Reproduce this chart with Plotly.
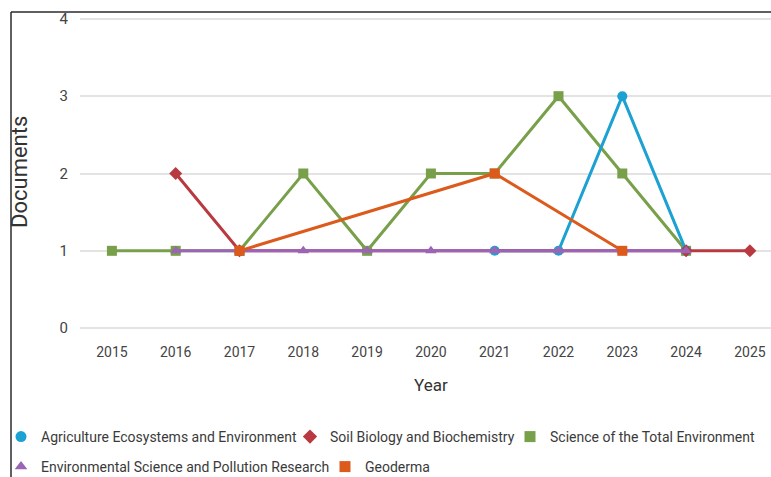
import plotly.graph_objects as go

# Publication counts per journal and year
years_agri = [2021, 2022, 2023, 2024]
docs_agri = [1, 1, 3, 1]

years_soil = [2016, 2017, 2024, 2025]
docs_soil = [2, 1, 1, 1]

years_stoten = [2015, 2016, 2017, 2018, 2019, 2020, 2021, 2022, 2023, 2024]
docs_stoten = [1, 1, 1, 2, 1, 2, 2, 3, 2, 1]

years_espr = [2016, 2017, 2018, 2019, 2020, 2021, 2022, 2023, 2024]
docs_espr = [1, 1, 1, 1, 1, 1, 1, 1, 1]

years_geoderma = [2017, 2021, 2023]
docs_geoderma = [1, 2, 1]

year_ticks = list(range(2015, 2026))
doc_ticks = [0, 1, 2, 3, 4]

W, H = 771, 477
ML, MR, MT, MB = 80, 0, 15, 145

FONT = "Roboto, 'Open Sans', sans-serif"

# (name, x, y, colour, marker symbol, legend id) - listed in drawing order
series = [
    ("Science of the Total Environment", years_stoten, docs_stoten, "#78a04b", "square", "legend3"),
    ("Agriculture Ecosystems and Environment", years_agri, docs_agri, "#1ba1d2", "circle", "legend"),
    ("Soil Biology and Biochemistry", years_soil, docs_soil, "#b83a40", "diamond", "legend2"),
    ("Environmental Science and Pollution Research", years_espr, docs_espr, "#9b64b5", "triangle-up", "legend4"),
    ("Geoderma", years_geoderma, docs_geoderma, "#dc5a1b", "square", "legend5"),
]

fig = go.Figure()
for name, xs, ys, col, sym, leg in series:
    fig.add_trace(go.Scatter(
        x=xs, y=ys, name=name, mode="lines+markers",
        line=dict(color=col, width=3),
        marker=dict(color=col, symbol=sym, size=10),
        showlegend=False, cliponaxis=False,
    ))
    # compact legend key: marker only
    fig.add_trace(go.Scatter(
        x=[None], y=[None], name=name, mode="markers",
        marker=dict(color=col, symbol=sym, size=11),
        legend=leg, showlegend=True,
    ))

plot_w = W - ML - MR
plot_h = H - MT - MB
x0, x1 = 2014.5, 2014.5 + plot_w / 63.8
y0, y1 = -0.05, 4.05


def px_to_paper_x(px):
    return (px - ML) / plot_w


def px_to_paper_y(py):
    return (H - MB - py) / plot_h


# Frame around the chart (top and left edges visible)
bx0, by0 = px_to_paper_x(11), px_to_paper_y(12)
bx1, by1 = px_to_paper_x(W + 5), px_to_paper_y(H + 5)
fig.add_shape(type="line", xref="paper", yref="paper", x0=bx0, y0=by0, x1=bx1, y1=by0,
              line=dict(color="#2b2b2b", width=1.5), layer="above")
fig.add_shape(type="line", xref="paper", yref="paper", x0=bx0, y0=by0, x1=bx0, y1=by1,
              line=dict(color="#2b2b2b", width=1.5), layer="above")

# Axis titles
fig.add_annotation(text="Year", xref="x", yref="paper", x=2020, y=px_to_paper_y(385),
                   showarrow=False, xanchor="center", yanchor="middle",
                   font=dict(size=17, color="#333333", family=FONT))
fig.add_annotation(text="Documents", xref="paper", yref="paper", x=px_to_paper_x(19),
                   y=px_to_paper_y(172), textangle=-90, showarrow=False,
                   xanchor="center", yanchor="middle",
                   font=dict(size=22, color="#333333", family=FONT))


def legend_at(left_px, mid_px):
    # one-item legend placed at a pixel position of the page
    return dict(
        orientation="h", xref="container", yref="container",
        x=left_px / W, y=1 - mid_px / H, xanchor="left", yanchor="middle",
        font=dict(size=14, color="#3a3a3a", family=FONT),
        itemwidth=30, bgcolor="rgba(0,0,0,0)",
    )


fig.update_layout(
    width=W, height=H,
    margin=dict(l=ML, r=MR, t=MT, b=MB),
    paper_bgcolor="white", plot_bgcolor="white",
    font=dict(family=FONT, color="#444444"),
    showlegend=True,
    legend=legend_at(1, 437),
    legend2=legend_at(290, 437),
    legend3=legend_at(510, 437),
    legend4=legend_at(1, 467),
    legend5=legend_at(325, 467),
    xaxis=dict(
        range=[x0, x1], tickmode="array", tickvals=year_ticks,
        ticktext=[str(y) for y in year_ticks],
        showgrid=False, zeroline=False, showline=False,
        tickfont=dict(size=14, color="#444444"), ticklabelstandoff=10,
    ),
    yaxis=dict(
        range=[y0, y1], tickmode="array", tickvals=doc_ticks,
        showgrid=True, gridcolor="#e3e3e3", gridwidth=1.5,
        zeroline=False, showline=False,
        tickfont=dict(size=15, color="#444444"), ticklabelstandoff=11,
    ),
)

fig.write_html("out.html")
